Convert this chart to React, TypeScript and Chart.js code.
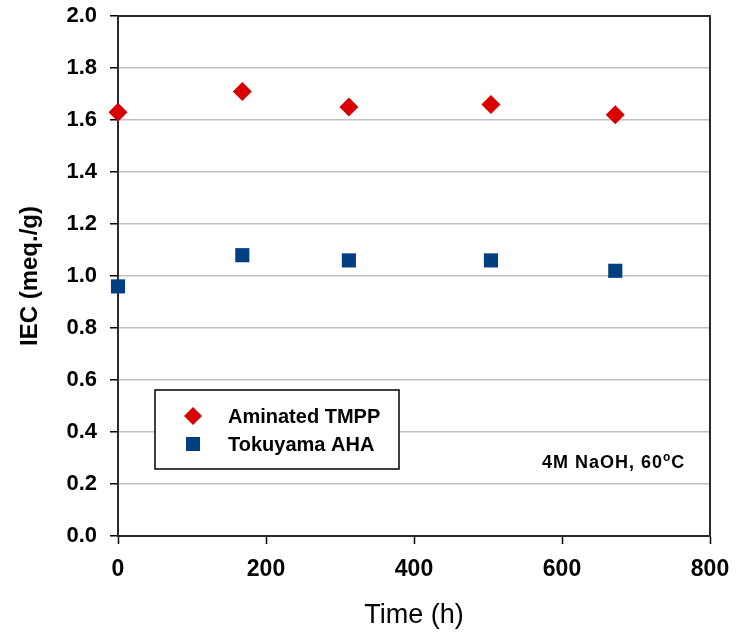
import React, { useEffect, useRef } from "react";
import { Chart, registerables } from "chart.js";

Chart.register(...registerables);

const timeHours = [0, 168, 312, 504, 672];
const aminatedTMPP = [1.63, 1.71, 1.65, 1.66, 1.62];
const tokuyamaAHA = [0.96, 1.08, 1.06, 1.06, 1.02];
const seriesNames = ["Aminated TMPP", "Tokuyama AHA"];
const seriesColors = ["#d80000", "#004080"];

const FONT = "'Liberation Sans', Arial, Helvetica, sans-serif";

const framePlugin = {
  id: "frameAndLegend",
  afterDraw(chart: any) {
    const { ctx, chartArea } = chart;
    const { left, right, top, bottom } = chartArea;
    ctx.save();
    // frame
    ctx.strokeStyle = "#2a2a2a";
    ctx.lineWidth = 2;
    ctx.beginPath();
    ctx.moveTo(left, top);
    ctx.lineTo(right, top);
    ctx.lineTo(right, bottom);
    ctx.stroke();

    // legend box
    const lx = left + 37;
    const ly = top + 374;
    const lw = 244;
    const lh = 79;
    ctx.fillStyle = "#ffffff";
    ctx.fillRect(lx, ly, lw, lh);
    ctx.strokeStyle = "#000000";
    ctx.lineWidth = 1.5;
    ctx.strokeRect(lx, ly, lw, lh);

    ctx.font = `bold 20px ${FONT}`;
    ctx.textBaseline = "alphabetic";
    ctx.textAlign = "left";
    const mx = lx + 38;
    const tx = lx + 73;
    const r1 = ly + 26;
    const r2 = ly + 54;
    // diamond
    ctx.fillStyle = seriesColors[0];
    ctx.beginPath();
    ctx.moveTo(mx, r1 - 9);
    ctx.lineTo(mx + 9, r1);
    ctx.lineTo(mx, r1 + 9);
    ctx.lineTo(mx - 9, r1);
    ctx.closePath();
    ctx.fill();
    // square
    ctx.fillStyle = seriesColors[1];
    ctx.fillRect(mx - 7, r2 - 7, 14, 14);
    ctx.fillStyle = "#000000";
    ctx.fillText(seriesNames[0], tx, r1 + 7);
    ctx.fillText(seriesNames[1], tx, r2 + 7);

    // annotation
    ctx.font = `bold 18px ${FONT}`;
    try {
      (ctx as any).letterSpacing = "1px";
    } catch (e) {}
    const base = top + 452;
    let x = left + 424;
    const part1 = "4M NaOH, 60";
    ctx.fillText(part1, x, base);
    x += ctx.measureText(part1).width;
    ctx.font = `bold 12px ${FONT}`;
    ctx.fillText("o", x, base - 7);
    x += ctx.measureText("o").width;
    ctx.font = `bold 18px ${FONT}`;
    ctx.fillText("C", x, base);
    ctx.restore();
  },
};

export default function App() {
  const canvasRef = useRef<HTMLCanvasElement | null>(null);

  useEffect(() => {
    document.body.style.margin = "0";
    const canvas = canvasRef.current;
    if (!canvas) return;
    const chart = new Chart(canvas, {
      type: "scatter",
      data: {
        datasets: [
          {
            label: seriesNames[0],
            data: timeHours.map((t, i) => ({ x: t, y: aminatedTMPP[i] })),
            pointStyle: "rectRot",
            pointRadius: 9.5,
            pointHoverRadius: 9.5,
            backgroundColor: seriesColors[0],
            borderColor: seriesColors[0],
            borderWidth: 0,
            clip: false,
          },
          {
            label: seriesNames[1],
            data: timeHours.map((t, i) => ({ x: t, y: tokuyamaAHA[i] })),
            pointStyle: "rect",
            pointRadius: 10,
            pointHoverRadius: 10,
            backgroundColor: seriesColors[1],
            borderColor: seriesColors[1],
            borderWidth: 0,
            clip: false,
          },
        ],
      },
      options: {
        animation: false,
        responsive: false,
        maintainAspectRatio: false,
        layout: { padding: { left: 0, right: 27, top: 16, bottom: 0 } },
        plugins: {
          legend: { display: false },
          tooltip: { enabled: false },
        },
        scales: {
          x: {
            type: "linear",
            min: 0,
            max: 800,
            afterFit: (scale: any) => {
              scale.height = 96;
              scale.paddingLeft = 0;
              scale.paddingRight = 0;
            },
            ticks: {
              stepSize: 200,
              color: "#000000",
              padding: 12,
              font: { family: FONT, size: 23, weight: "bold" },
            },
            grid: {
              drawOnChartArea: false,
              drawTicks: true,
              tickLength: 8,
              tickColor: "#000000",
              tickWidth: 1.5,
            },
            border: { display: true, color: "#2a2a2a", width: 2 },
            title: {
              display: true,
              text: "Time (h)",
              color: "#000000",
              font: { family: FONT, size: 27, weight: "normal" },
              padding: { top: 0, bottom: 0 },
            },
          },
          y: {
            type: "linear",
            min: 0,
            max: 2,
            afterFit: (scale: any) => {
              scale.width = 118;
              scale.paddingTop = 0;
              scale.paddingBottom = 0;
            },
            ticks: {
              stepSize: 0.2,
              color: "#000000",
              padding: 13,
              font: { family: FONT, size: 22, weight: "bold" },
              callback: (v: any) => Number(v).toFixed(1),
            },
            grid: {
              color: "#c0c0c0",
              lineWidth: 1.5,
              tickLength: 8,
              tickColor: "#000000",
              tickWidth: 1.5,
            },
            border: { display: true, color: "#2a2a2a", width: 2 },
            title: {
              display: true,
              text: "IEC (meq./g)",
              color: "#000000",
              font: { family: FONT, size: 24, weight: "bold" },
              padding: { top: 16, bottom: 0 },
            },
          },
        },
      },
      plugins: [framePlugin],
    });
    return () => chart.destroy();
  }, []);

  return (
    <div style={{ position: "absolute", left: 0, top: 0, width: 737, height: 632 }}>
      <canvas ref={canvasRef} width={737} height={632} style={{ width: 737, height: 632 }} />
    </div>
  );
}
